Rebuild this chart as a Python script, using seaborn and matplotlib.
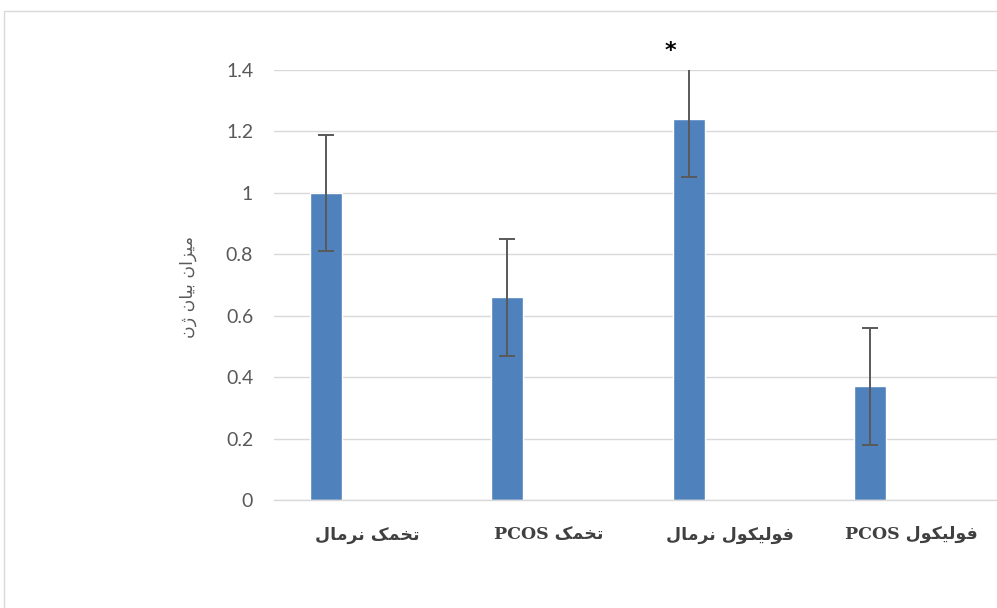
import numpy as np
import pandas as pd
import seaborn as sns
import matplotlib.pyplot as plt
from matplotlib.patches import Rectangle

# Data
categories = ["تخمک نرمال", "تخمک PCOS", "فولیکول نرمال", "فولیکول PCOS"]
expression = [1.00, 0.66, 1.24, 0.37]
error = [0.19, 0.19, 0.19, 0.19]
y_ticks = [0, 0.2, 0.4, 0.6, 0.8, 1.0, 1.2, 1.4]
y_label = "میزان بیان ژن"
marker_text = "*"

# matplotlib does not shape Arabic script, so map letters to presentation forms
FORMS = {
    "ا": ("\uFE8D", "\uFE8E", None, None),
    "ب": ("\uFE8F", "\uFE90", "\uFE91", "\uFE92"),
    "ت": ("\uFE95", "\uFE96", "\uFE97", "\uFE98"),
    "خ": ("\uFEA5", "\uFEA6", "\uFEA7", "\uFEA8"),
    "ر": ("\uFEAD", "\uFEAE", None, None),
    "ز": ("\uFEAF", "\uFEB0", None, None),
    "ژ": ("\uFB8A", "\uFB8B", None, None),
    "ف": ("\uFED1", "\uFED2", "\uFED3", "\uFED4"),
    "ک": ("\uFB8E", "\uFB8F", "\uFB90", "\uFB91"),
    "ك": ("\uFB8E", "\uFB8F", "\uFB90", "\uFB91"),
    "ل": ("\uFEDD", "\uFEDE", "\uFEDF", "\uFEE0"),
    "م": ("\uFEE1", "\uFEE2", "\uFEE3", "\uFEE4"),
    "ن": ("\uFEE5", "\uFEE6", "\uFEE7", "\uFEE8"),
    "و": ("\uFEED", "\uFEEE", None, None),
    "ی": ("\uFBFC", "\uFBFD", "\uFBFE", "\uFBFF"),
    "ي": ("\uFBFC", "\uFBFD", "\uFBFE", "\uFBFF"),
}


def shape_word(w):
    out = []
    for i, c in enumerate(w):
        if c not in FORMS:
            out.append(c)
            continue
        prev = w[i - 1] if i > 0 else None
        nxt = w[i + 1] if i + 1 < len(w) else None
        joins_prev = prev in FORMS and FORMS[prev][2] is not None
        joins_next = nxt in FORMS and FORMS[c][2] is not None
        iso, fin, ini, med = FORMS[c]
        if joins_prev and joins_next:
            out.append(med)
        elif joins_prev:
            out.append(fin)
        elif joins_next:
            out.append(ini)
        else:
            out.append(iso)
    return "".join(reversed(out))


def rtl(text):
    words = text.split(" ")
    return " ".join(shape_word(w) if any(c in FORMS for c in w) else w
                    for w in reversed(words))


df = pd.DataFrame({"Group": categories, "Expression": expression, "Error": error})

sns.set_style("white")
plt.rcParams["font.family"] = ["Lato", "DejaVu Sans"]

fig = plt.figure(figsize=(9.97, 6.08), dpi=100)
# outer chart frame (cropped on the right and bottom like the reference)
fig.patches.append(Rectangle((4 / 997, -0.05), 1.2, 1 - 11 / 608 + 0.05,
                             transform=fig.transFigure, fill=False,
                             edgecolor="#d9d9d9", linewidth=1))

ax = fig.add_axes([274 / 997, 108 / 608, 728 / 997, 430 / 608])

sns.barplot(data=df, x="Group", y="Expression", color="#4F81BD",
            width=0.176, saturation=1, errorbar=None, ax=ax)

ax.errorbar(np.arange(len(categories)), df["Expression"], yerr=df["Error"],
            fmt="none", ecolor="#595959", elinewidth=1.4, capsize=6,
            capthick=1.4, zorder=3)

# significance star over the third group
ax.text(2 - 0.1, 1.462, marker_text, ha="center", va="center", fontsize=16,
        fontweight="bold", color="black", clip_on=False, family="DejaVu Sans")

ax.set_ylim(0, 1.4)
ax.set_xlim(-0.2865, 3.727)
ax.set_yticks(y_ticks)
ax.set_yticklabels([f"{v:g}" for v in y_ticks], color="#595959", fontsize=14)
ax.tick_params(axis="y", length=0, pad=15)
ax.tick_params(axis="x", length=0, pad=19)

ax.set_xticks(np.arange(len(categories)) + 0.226)
ax.set_xticklabels([rtl(c) for c in categories], fontsize=12.5,
                   fontweight="bold", color="#404040",
                   family=["DejaVu Serif", "DejaVu Sans"])

ax.set_xlabel("")
ax.set_ylabel(rtl(y_label), color="#595959", fontsize=12.5,
              family="DejaVu Sans")
ax.yaxis.set_label_coords(-0.106, 0.495)

ax.yaxis.grid(True, color="#d9d9d9", linewidth=1)
ax.set_axisbelow(True)
for side in ["top", "left", "right"]:
    ax.spines[side].set_visible(False)
ax.spines["bottom"].set_color("#d9d9d9")
ax.spines["bottom"].set_linewidth(1)

fig.savefig("out.png", dpi=100)
